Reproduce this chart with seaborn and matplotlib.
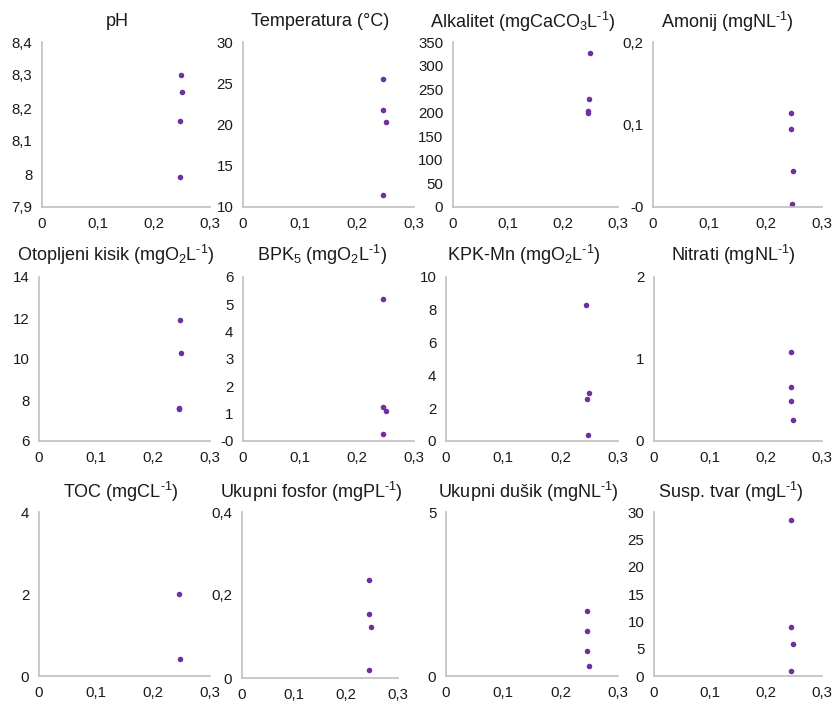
import numpy as np
import pandas as pd
import matplotlib
matplotlib.use('Agg')
import matplotlib.pyplot as plt
from matplotlib.ticker import FixedLocator
import seaborn as sns

sns.set_style('white')
plt.rcParams['font.family'] = ['Liberation Sans', 'DejaVu Sans']
plt.rcParams['mathtext.fontset'] = 'custom'
plt.rcParams['mathtext.rm'] = 'Liberation Sans'
plt.rcParams['mathtext.it'] = 'Liberation Sans'

# podaci ocitani sa slike (x, y)
ph_x = [0.2475, 0.2505, 0.2463, 0.2463]
ph_y = [8.30, 8.25, 8.16, 7.99]
temp_x = [0.2458, 0.2458, 0.2500, 0.2458]
temp_y = [25.5, 21.7, 20.3, 11.4]
alk_x = [0.2490, 0.2467, 0.2450, 0.2450]
alk_y = [327, 229, 203, 200]
amon_x = [0.2450, 0.2450, 0.2490, 0.2460]
amon_y = [0.114, 0.095, 0.044, 0.004]
o2_x = [0.2474, 0.2497, 0.2456, 0.2460]
o2_y = [11.9, 10.3, 7.6, 7.55]
bpk_x = [0.2458, 0.2458, 0.2500, 0.2458]
bpk_y = [5.2, 1.25, 1.1, 0.24]
kpk_x = [0.2450, 0.2490, 0.2467, 0.2470]
kpk_y = [8.3, 2.9, 2.58, 0.34]
nit_x = [0.2447, 0.2450, 0.2447, 0.2490]
nit_y = [1.09, 0.66, 0.49, 0.26]
toc_x = [0.2456, 0.2474]
toc_y = [2.01, 0.42]
fos_x = [0.2445, 0.2445, 0.2490, 0.2450]
fos_y = [0.237, 0.154, 0.122, 0.019]
dus_x = [0.2456, 0.2456, 0.2456, 0.2490]
dus_y = [1.98, 1.38, 0.77, 0.32]
susp_x = [0.2450, 0.2455, 0.2482, 0.2455]
susp_y = [28.5, 8.9, 5.9, 0.9]

sup = r'$^{\text{-1}}$'
titles = ['pH', 'Temperatura (°C)', r'Alkalitet (mgCaCO$_3$L' + sup + ')', 'Amonij (mgNL' + sup + ')',
          r'Otopljeni kisik (mgO$_2$L' + sup + ')', r'BPK$_5$ (mgO$_2$L' + sup + ')',
          r'KPK-Mn (mgO$_2$L' + sup + ')', 'Nitrati (mgNL' + sup + ')',
          'TOC (mgCL' + sup + ')', 'Ukupni fosfor (mgPL' + sup + ')',
          'Ukupni dušik (mgNL' + sup + ')', 'Susp. tvar (mgL' + sup + ')']
xs = [ph_x, temp_x, alk_x, amon_x, o2_x, bpk_x, kpk_x, nit_x, toc_x, fos_x, dus_x, susp_x]
ys = [ph_y, temp_y, alk_y, amon_y, o2_y, bpk_y, kpk_y, nit_y, toc_y, fos_y, dus_y, susp_y]

x_ticks = [0, 0.1, 0.2, 0.3]
x_labels = ['0', '0,1', '0,2', '0,3']
y_ticks = [
    [7.9, 8.0, 8.1, 8.2, 8.3, 8.4],
    [10, 15, 20, 25, 30],
    [0, 50, 100, 150, 200, 250, 300, 350],
    [0, 0.1, 0.2],
    [6, 8, 10, 12, 14],
    [0, 1, 2, 3, 4, 5, 6],
    [0, 2, 4, 6, 8, 10],
    [0, 1, 2],
    [0, 2, 4],
    [0, 0.2, 0.4],
    [0, 5],
    [0, 5, 10, 15, 20, 25, 30],
]
y_labels = [
    ['7,9', '8', '8,1', '8,2', '8,3', '8,4'],
    ['10', '15', '20', '25', '30'],
    ['0', '50', '100', '150', '200', '250', '300', '350'],
    ['-0', '0,1', '0,2'],
    ['6', '8', '10', '12', '14'],
    ['-0', '1', '2', '3', '4', '5', '6'],
    ['0', '2', '4', '6', '8', '10'],
    ['0', '1', '2'],
    ['0', '2', '4'],
    ['0', '0,2', '0,4'],
    ['0', '5'],
    ['0', '5', '10', '15', '20', '25', '30'],
]

# polozaj osi u pikselima: lijevo, desno, gore, dolje
boxes = [
    (42, 210, 42, 207), (243, 414, 42, 207), (453, 618, 42, 207), (653, 822, 42, 207),
    (39, 210, 277, 441), (243, 414, 277, 441), (446, 618, 277, 441), (654, 822, 277, 441),
    (39, 210, 512, 676), (242, 398, 512, 678), (446, 618, 512, 676), (654, 822, 512, 676),
]
title_pos = [(117, 22), (320, 22), (523, 22), (727, 22),
             (116, 255), (322, 255), (524, 255), (733, 255),
             (121, 492), (311, 492), (528, 492), (731, 492)]

W, H = 836, 702
fig = plt.figure(figsize=(W / 100, H / 100), dpi=100)
fig.patch.set_facecolor('white')
grey = '#bfbfbf'

for i in range(12):
    l, r, t, b = boxes[i]
    ax = fig.add_axes([l / W, (H - b) / H, (r - l) / W, (b - t) / H])
    df = pd.DataFrame({'x': xs[i], 'y': ys[i]})
    sns.scatterplot(data=df, x='x', y='y', ax=ax, color='#7030a0', s=16, linewidth=0)
    ax.set_xlim(0, 0.3)
    ax.set_ylim(y_ticks[i][0], y_ticks[i][-1])
    ax.xaxis.set_major_locator(FixedLocator(x_ticks))
    ax.set_xticklabels(x_labels)
    ax.yaxis.set_major_locator(FixedLocator(y_ticks[i]))
    ax.set_yticklabels(y_labels[i])
    ax.set_xlabel('')
    ax.set_ylabel('')
    for s in ['top', 'right']:
        ax.spines[s].set_visible(False)
    for s in ['left', 'bottom']:
        ax.spines[s].set_color(grey)
        ax.spines[s].set_linewidth(1.2)
    ax.tick_params(axis='both', direction='out', length=4, width=1, color=grey,
                   labelsize=10.8, labelcolor='#1a1a1a', pad=3)
    ax.set_facecolor('none')
    ax.patch.set_alpha(0)
    tx, ty = title_pos[i]
    fig.text(tx / W, 1 - ty / H, titles[i], ha='center', va='center', fontsize=13, color='#1a1a1a')

plt.savefig('out.png', dpi=100)
